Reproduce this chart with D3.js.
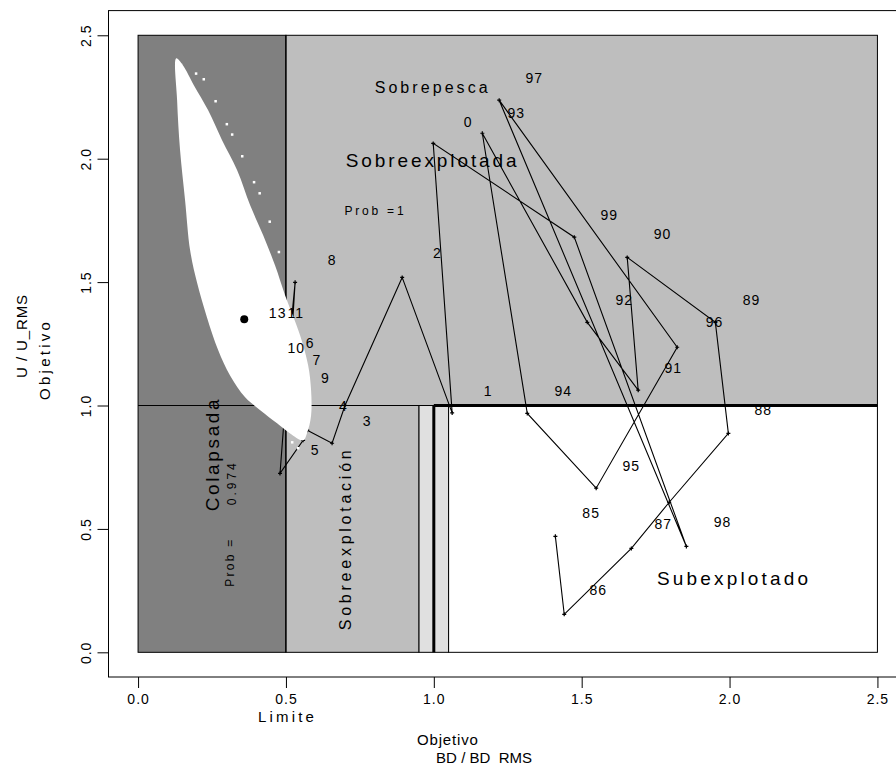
<!DOCTYPE html>
<html lang="es">
<head>
<meta charset="UTF-8">
<script src="https://d3js.org/d3.v7.min.js"></script>
<title>Diagrama de estado</title>
<style>
    body { margin: 0; background: #fff; }
    svg text { font-family: "Liberation Sans", Arial, sans-serif; fill: #000; }
</style>
</head>
<body>
<svg id="chart" width="896" height="765"></svg>
<script>
// ticks
const xTicks = [0, 0.5, 1, 1.5, 2, 2.5];
const yTicks = [0, 0.5, 1, 1.5, 2, 2.5];

// zones (BD/BD_RMS from-to, U/U_RMS from-to)
const zoneX0 = [0, 0.5, 0.5, 0.95, 1.05];
const zoneX1 = [0.5, 2.5, 0.95, 1.05, 2.5];
const zoneY0 = [0, 1, 0, 0, 0];
const zoneY1 = [2.5, 2.5, 1, 1, 1];
const zoneFill = ["#808080", "#bebebe", "#bebebe", "#e0e0e0", "#ffffff"];

const limitBD = 0.5;
const targetBD = 1.0;
const targetU = 1.0;

// trajectory
const trajX = [1.411, 1.441, 1.668, 1.796, 1.996, 1.952, 1.654, 1.691, 1.519, 1.164,
               1.316, 1.549, 1.823, 1.221, 1.854, 1.475, 0.998, 1.062, 0.893, 0.700,
               0.656, 0.572, 0.494, 0.480, 0.558, 0.514, 0.531, 0.521];
const trajY = [0.470, 0.154, 0.421, 0.608, 0.887, 1.337, 1.600, 1.062, 1.337, 2.103,
               0.968, 0.665, 1.236, 2.237, 0.429, 1.682, 2.062, 0.970, 1.519, 1.001,
               0.847, 0.900, 0.948, 0.725, 0.859, 1.284, 1.499, 1.305];

// year labels
const years = ["85", "86", "87", "88", "89", "90", "91", "92", "93", "94", "95", "96", "97", "98",
               "99", "0", "1", "2", "3", "4", "5", "6", "7", "8", "9", "10", "11", "13"];
const yearX = [1.532, 1.556, 1.776, 2.114, 2.074, 1.773, 1.810, 1.644, 1.279, 1.438, 1.668, 1.949, 1.340, 1.976,
               1.593, 1.116, 1.184, 1.012, 0.775, 0.694, 0.599, 0.582, 0.605, 0.656, 0.633, 0.535, 0.533, 0.472];
const yearY = [0.563, 0.251, 0.519, 0.981, 1.426, 1.694, 1.151, 1.426, 2.184, 1.058, 0.754, 1.337, 2.326, 0.527,
               1.771, 2.147, 1.058, 1.617, 0.936, 0.997, 0.818, 1.252, 1.183, 1.588, 1.110, 1.232, 1.374, 1.374];

// outline of the posterior cloud (left edge downwards, right edge upwards)
const cloudX = [0.129, 0.132, 0.142, 0.159, 0.176, 0.200, 0.233, 0.271, 0.311, 0.362, 0.413, 0.470, 0.514,
                0.558, 0.572, 0.585, 0.585, 0.575, 0.548, 0.497, 0.463, 0.423, 0.379, 0.335, 0.284,
                0.237, 0.189, 0.152];
const cloudY = [2.407, 2.237, 2.034, 1.831, 1.629, 1.495, 1.357, 1.224, 1.122, 1.033, 0.981, 0.928, 0.887,
                0.859, 0.891, 0.960, 1.062, 1.163, 1.284, 1.447, 1.568, 1.690, 1.811, 1.953, 2.075,
                2.196, 2.297, 2.378];
// loose points at the cloud's edge
const speckX = [0.222, 0.262, 0.318, 0.352, 0.411, 0.445, 0.476, 0.521, 0.541, 0.145, 0.196, 0.300, 0.392];
const speckY = [2.322, 2.233, 2.098, 2.010, 1.860, 1.745, 1.622, 0.851, 0.827, 2.380, 2.345, 2.140, 1.905];

// point estimate
const estX = [0.359];
const estY = [1.349];

const svg = d3.select("#chart");

const x = d3.scaleLinear().domain([-0.1, 2.6]).range([108.5, 907]);
const y = d3.scaleLinear().domain([-0.1, 2.6]).range([677, 10.6]);

// zones
svg.append("g").selectAll("rect")
    .data(zoneX0)
    .join("rect")
    .attr("x", (d, i) => x(d))
    .attr("y", (d, i) => y(zoneY1[i]))
    .attr("width", (d, i) => x(zoneX1[i]) - x(d))
    .attr("height", (d, i) => y(zoneY0[i]) - y(zoneY1[i]))
    .attr("fill", (d, i) => zoneFill[i])
    .attr("stroke", "#000")
    .attr("stroke-width", 1);

// reference lines
svg.append("line")
    .attr("x1", x(0)).attr("x2", x(2.5))
    .attr("y1", y(targetU)).attr("y2", y(targetU))
    .attr("stroke", "#000").attr("stroke-width", 1);
svg.append("line")
    .attr("x1", x(targetBD)).attr("x2", x(2.5))
    .attr("y1", y(targetU)).attr("y2", y(targetU))
    .attr("stroke", "#000").attr("stroke-width", 3);
svg.append("line")
    .attr("x1", x(targetBD)).attr("x2", x(targetBD))
    .attr("y1", y(0)).attr("y2", y(targetU))
    .attr("stroke", "#000").attr("stroke-width", 3);
svg.append("line")
    .attr("x1", x(limitBD)).attr("x2", x(limitBD))
    .attr("y1", y(0)).attr("y2", y(2.5))
    .attr("stroke", "#000").attr("stroke-width", 1);

// trajectory
const line = d3.line().x((d, i) => x(trajX[i])).y((d, i) => y(trajY[i]));
svg.append("path")
    .attr("d", line(trajX))
    .attr("fill", "none")
    .attr("stroke", "#000")
    .attr("stroke-width", 1.1);
svg.append("g").selectAll("path")
    .data(trajX)
    .join("path")
    .attr("d", (d, i) => `M${x(d) - 2},${y(trajY[i])}h4M${x(d)},${y(trajY[i]) - 2}v4`)
    .attr("stroke", "#000")
    .attr("stroke-width", 1.2);

// cloud
const area = d3.line().x((d, i) => x(cloudX[i])).y((d, i) => y(cloudY[i])).curve(d3.curveCatmullRomClosed);
svg.append("path")
    .attr("d", area(cloudX))
    .attr("fill", "#fff");
svg.append("g").selectAll("rect")
    .data(speckX)
    .join("rect")
    .attr("x", (d, i) => x(d) - 1.2)
    .attr("y", (d, i) => y(speckY[i]) - 1.2)
    .attr("width", 2.5).attr("height", 2.5)
    .attr("fill", "#fff");

svg.append("g").selectAll("circle")
    .data(estX)
    .join("circle")
    .attr("cx", d => x(d))
    .attr("cy", (d, i) => y(estY[i]))
    .attr("r", 4)
    .attr("fill", "#000");

// zone texts
const addText = (txt, px, py, size, len, rot) => {
    svg.append("text")
        .attr("transform", `translate(${x(px)},${y(py)})` + (rot ? " rotate(-90)" : ""))
        .attr("text-anchor", "middle")
        .attr("dy", "0.35em")
        .attr("font-size", size)
        .attr("textLength", len)
        .attr("lengthAdjust", "spacing")
        .text(txt);
};
addText("Sobrepesca", 0.991, 2.289, 16, 113, false);
addText("Sobreexplotada", 0.991, 1.994, 19, 171, false);
addText("Prob =1", 0.798, 1.787, 12, 59, false);
addText("Subexplotado", 2.010, 0.300, 19, 151, false);
addText("Colapsada", 0.250, 0.798, 19, 112, true);
addText("0.974", 0.318, 0.681, 12, 42, true);
addText("Prob =", 0.311, 0.361, 12, 47, true);
addText("Sobreexplotación", 0.700, 0.454, 16, 180, true);

// year labels
svg.append("g").selectAll("text")
    .data(years)
    .join("text")
    .attr("x", (d, i) => x(yearX[i]))
    .attr("y", (d, i) => y(yearY[i]))
    .attr("dy", "0.35em")
    .attr("text-anchor", "middle")
    .attr("font-size", 14)
    .attr("letter-spacing", 1)
    .text(d => d);

// box
svg.append("rect")
    .attr("x", x(-0.1)).attr("y", y(2.6))
    .attr("width", x(2.6) - x(-0.1)).attr("height", y(-0.1) - y(2.6))
    .attr("fill", "none").attr("stroke", "#000").attr("stroke-width", 1);

// axes
const gx = svg.append("g")
    .attr("transform", `translate(0,${y(-0.1)})`)
    .call(d3.axisBottom(x).tickValues(xTicks).tickFormat(d3.format(".1f")).tickSize(11).tickPadding(6));
gx.select(".domain").remove();
gx.selectAll("text").attr("font-size", 14).attr("letter-spacing", 1).attr("font-family", null);

const gy = svg.append("g")
    .attr("transform", `translate(${x(-0.1)},0)`)
    .call(d3.axisLeft(y).tickValues(yTicks).tickFormat(d3.format(".1f")).tickSize(11));
gy.select(".domain").remove();
gy.selectAll("text")
    .attr("font-size", 14)
    .attr("letter-spacing", 1)
    .attr("font-family", null)
    .attr("transform", "rotate(-90)")
    .attr("x", 0)
    .attr("y", -18)
    .attr("dy", 0)
    .attr("text-anchor", "middle");

// axis titles
const title = (txt, tx, ty, len, rot) => {
    svg.append("text")
        .attr("transform", `translate(${tx},${ty})` + (rot ? " rotate(-90)" : ""))
        .attr("text-anchor", "middle")
        .attr("font-size", 15)
        .attr("textLength", len)
        .attr("lengthAdjust", "spacing")
        .text(txt);
};
title("U / U_RMS", 27, y(1.28), 83, true);
title("Objetivo", 50, y(1.18), 78, true);
title("Limite", x(limitBD), 722, 56, false);
title("Objetivo", x(1.046), 745, 61, false);
title("BD / BD_RMS", x(1.17), 763, 96, false);
</script>
</body>
</html>
